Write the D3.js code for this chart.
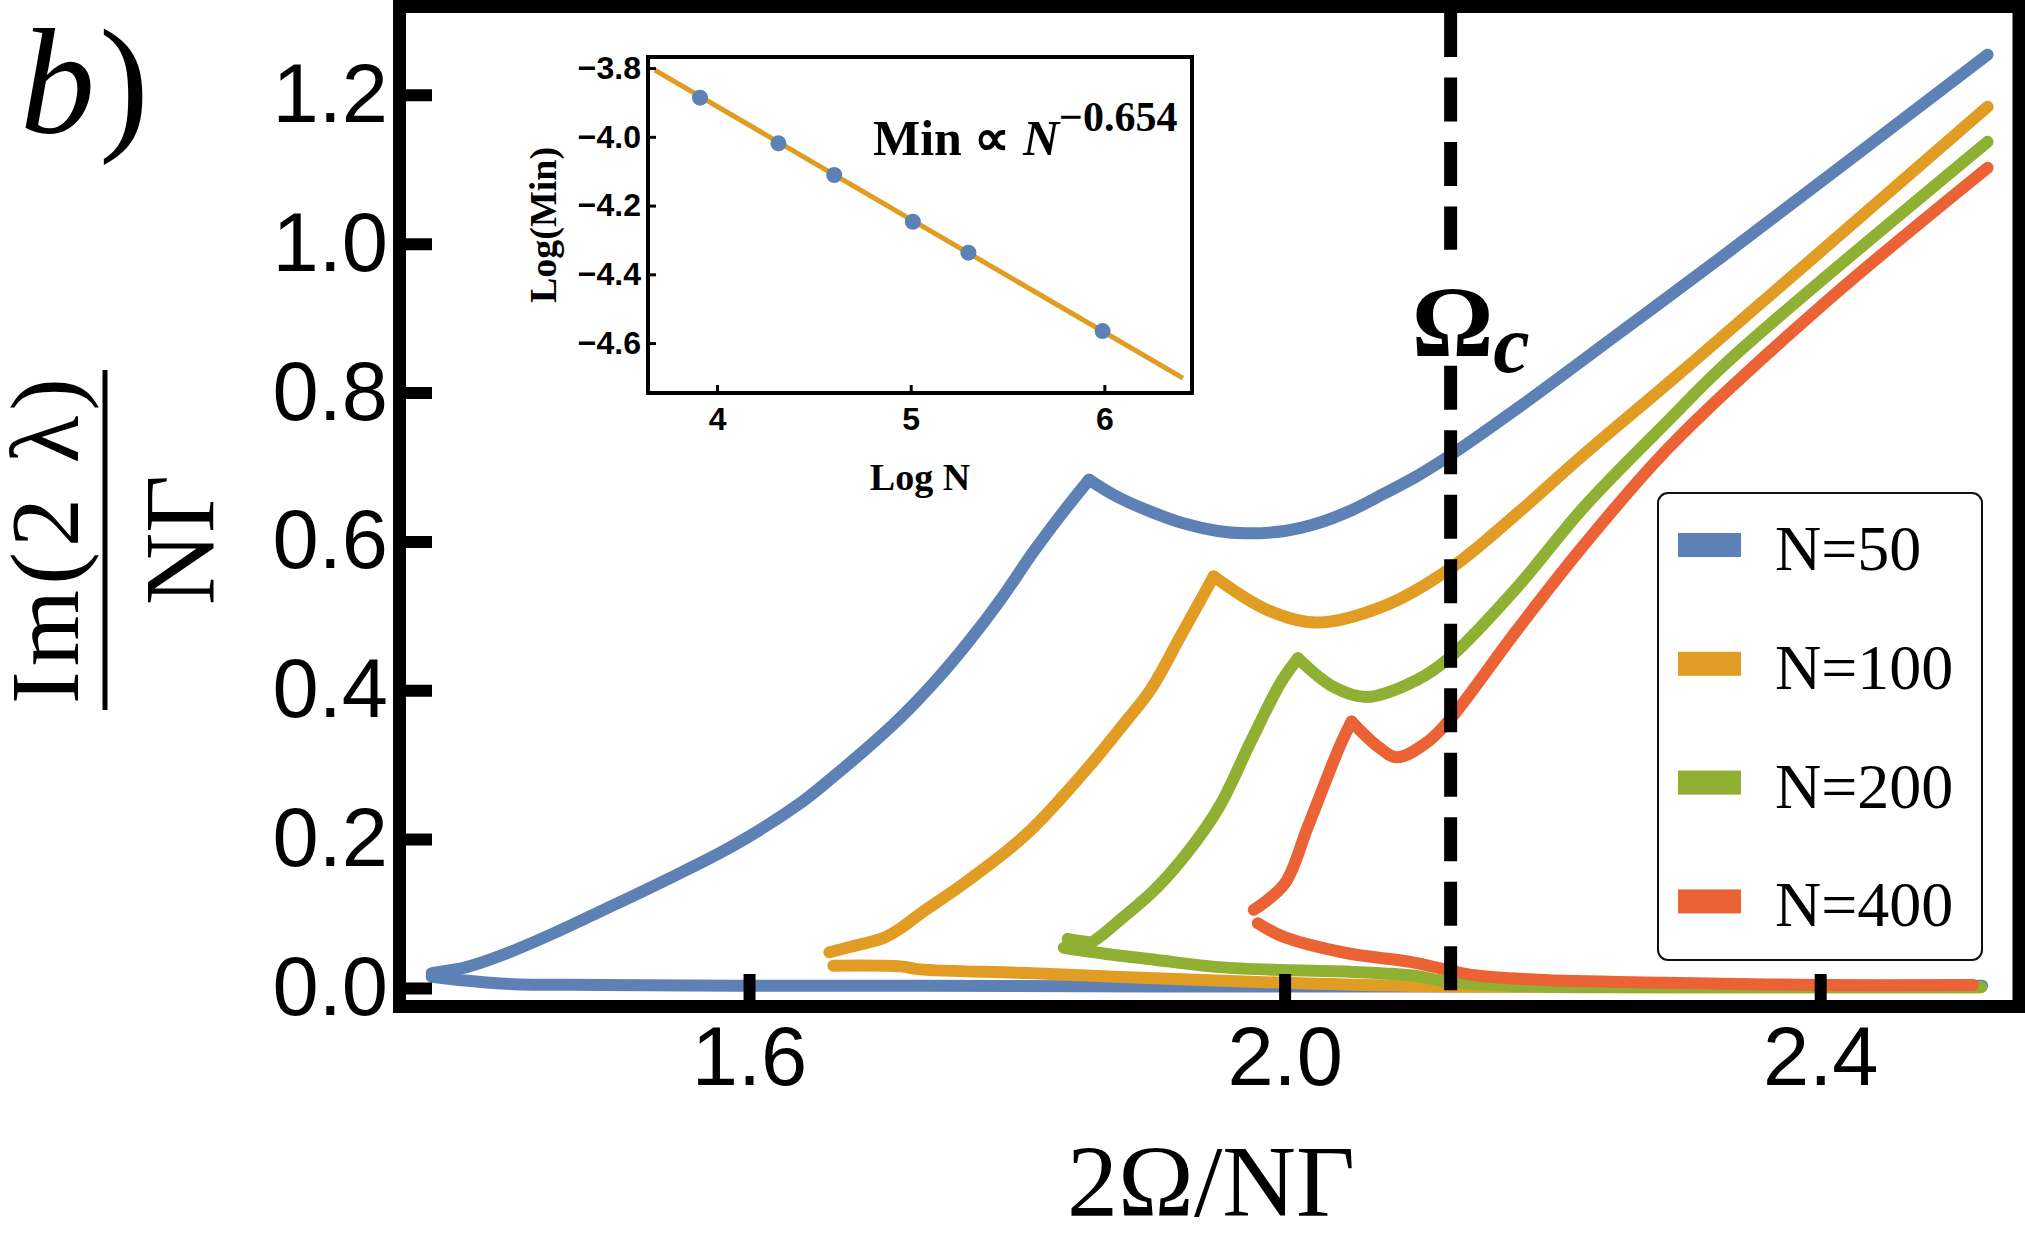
<!DOCTYPE html>
<html>
<head>
<meta charset="utf-8">
<title>Im(2λ)/NΓ against 2Ω/NΓ</title>
<style>
  body {
    margin: 0;
    background: #ffffff;
  }
  svg { display: block; }

  .mainAxis .tick line {
    stroke: #000;
    stroke-width: 12;
  }
  .mainAxis .tick text {
    font-family: "Liberation Sans", Arial, sans-serif;
    font-size: 83px;
    fill: #000;
  }
  .insetAxis .tick line {
    stroke: #000;
    stroke-width: 3;
  }
  .insetAxis .tick text {
    font-family: "Liberation Sans", Arial, sans-serif;
    font-size: 32px;
    font-weight: bold;
    fill: #000;
  }
  .serif {
    font-family: "Liberation Serif", "Times New Roman", serif;
    fill: #000;
  }
</style>
</head>
<body>
<svg width="2025" height="1238"></svg>
<script src="https://d3js.org/d3.v7.min.js"></script>
<script>

// ---- data ----
var seriesNames = ["N=50", "N=100", "N=200", "N=400"];

var xTicks = [1.6, 2.0, 2.4];
var yTicks = [0, 0.2, 0.4, 0.6, 0.8, 1.0, 1.2];

// upper (rising) branches, [2Ω/NΓ, Im(2λ)/NΓ]
var upperN50 = [[1.363,0.020],[1.389,0.028],[1.414,0.043],[1.451,0.071],[1.489,0.103],[1.539,0.146],
  [1.588,0.191],[1.638,0.248],[1.663,0.284],[1.688,0.322],[1.713,0.363],[1.738,0.410],[1.763,0.463],
  [1.788,0.522],[1.812,0.585],[1.834,0.638],[1.854,0.683],[1.875,0.660],[1.900,0.640],[1.925,0.624],
  [1.950,0.614],[1.970,0.611],[2.000,0.614],[2.024,0.624],[2.050,0.642],[2.074,0.664],[2.100,0.689],
  [2.124,0.716],[2.174,0.779],[2.250,0.880],[2.330,0.987],[2.525,1.254]];
var upperN100 = [[1.660,0.048],[1.675,0.055],[1.700,0.067],[1.713,0.080],[1.728,0.100],[1.761,0.141],
  [1.808,0.208],[1.856,0.302],[1.880,0.355],[1.900,0.401],[1.923,0.475],[1.947,0.553],[1.987,0.508],
  [2.024,0.491],[2.074,0.513],[2.124,0.564],[2.174,0.638],[2.223,0.716],[2.288,0.815],[2.330,0.880],
  [2.525,1.184]];
var upperN200 = [[1.838,0.066],[1.852,0.062],[1.856,0.062],[1.880,0.096],[1.903,0.132],[1.927,0.181],
  [1.951,0.243],[1.975,0.332],[1.997,0.410],[2.010,0.443],[2.036,0.405],[2.061,0.391],[2.099,0.414],
  [2.124,0.445],[2.174,0.539],[2.223,0.645],[2.288,0.765],[2.330,0.840],[2.525,1.137]];
var upperN400 = [[1.977,0.105],[2.000,0.140],[2.017,0.215],[2.041,0.324],[2.050,0.358],[2.070,0.324],
  [2.084,0.310],[2.107,0.331],[2.124,0.362],[2.174,0.482],[2.223,0.594],[2.288,0.728],[2.400,0.915],
  [2.525,1.102]];

// lower (decaying) branches
var lowerN50 = [[1.363,0.015],[1.414,0.006],[1.489,0.004],[1.588,0.003],[1.728,0.003],[1.900,0.002],
  [2.100,0.002],[2.300,0.002],[2.521,0.003]];
var lowerN100 = [[1.663,0.030],[1.713,0.029],[1.728,0.025],[1.808,0.020],[1.903,0.013],[1.999,0.007],
  [2.123,0.002],[2.300,0.001],[2.520,0.001]];
var lowerN200 = [[1.835,0.054],[1.870,0.045],[1.903,0.038],[1.951,0.028],[1.999,0.024],[2.046,0.022],
  [2.094,0.017],[2.125,0.008],[2.189,0.002],[2.350,0.001],[2.520,0.001]];
var lowerN400 = [[1.980,0.087],[1.999,0.069],[2.046,0.047],[2.094,0.035],[2.122,0.024],[2.142,0.017],
  [2.189,0.011],[2.284,0.007],[2.399,0.004],[2.514,0.004]];

// critical drive, dashed marker drawn in two pieces around its label
var omegaC = 2.124;
var omegaCPieces = [[1.31, 0.992], [0.836, -0.017]];

// inset: Log(Min) against Log N
var insetLogN = [3.912, 4.317, 4.605, 5.011, 5.298, 5.991];
var insetLogMin = [-3.886, -4.019, -4.111, -4.247, -4.337, -4.565];
var insetFitX = [3.679, 6.406];
var insetFitY = [-3.806, -4.702];
var insetXTicks = [4, 5, 6];
var insetYTicks = [-3.8, -4.0, -4.2, -4.4, -4.6];

// ---- drawing ----
var colors = ["#5E81B5", "#E19C24", "#8FB032", "#EB6235"];
var uppers = [upperN50, upperN100, upperN200, upperN400];
var lowers = [lowerN50, lowerN100, lowerN200, lowerN400];

var svg = d3.select("svg");

var x = d3.scaleLinear().domain([1.3438, 2.544]).range([406, 2013]);
var y = d3.scaleLinear().domain([-0.0175, 1.31]).range([1001, 13]);

var line = d3.line()
  .curve(d3.curveCatmullRom.alpha(0.5))
  .x(function(d) { return x(d[0]); })
  .y(function(d) { return y(d[1]); });

// split a rising branch at its cusp so the kink stays sharp
function splitAtCusp(branch) {
  for (var k = 1; k < branch.length - 1; k++) {
    if (branch[k][1] > branch[k - 1][1] && branch[k][1] > branch[k + 1][1]) {
      return [branch.slice(0, k + 1), branch.slice(k)];
    }
  }
  return [branch];
}

// curves, N=400 ends on top
var curves = svg.append("g");
seriesNames.forEach(function(name, i) {
  [lowers[i]].concat(splitAtCusp(uppers[i])).forEach(function(piece) {
    curves.append("path")
      .datum(piece)
      .attr("d", line)
      .attr("fill", "none")
      .attr("stroke", colors[i])
      .attr("stroke-width", 12)
      .attr("stroke-linecap", "round")
      .attr("stroke-linejoin", "round");
  });
});

// dashed Omega_c marker
svg.append("g")
  .selectAll("line")
  .data(omegaCPieces)
  .enter().append("line")
  .attr("x1", x(omegaC))
  .attr("x2", x(omegaC))
  .attr("y1", function(d) { return y(d[0]); })
  .attr("y2", function(d) { return y(d[1]); })
  .attr("stroke", "#000")
  .attr("stroke-width", 13)
  .attr("stroke-dasharray", "44 20.5");

var omegaLabel = svg.append("text")
  .attr("class", "serif")
  .attr("x", x(omegaC) - 39)
  .attr("y", 357)
  .attr("font-size", 102)
  .attr("font-weight", "bold");
omegaLabel.append("tspan").text("Ω");
omegaLabel.append("tspan")
  .attr("dy", 15)
  .attr("font-size", 82)
  .attr("font-style", "italic")
  .text("c");

// frame
svg.append("rect")
  .attr("x", 399.5)
  .attr("y", 6.5)
  .attr("width", 2019 - 399.5)
  .attr("height", 1006.5 - 6.5)
  .attr("fill", "none")
  .attr("stroke", "#000")
  .attr("stroke-width", 13);

// axes with inward ticks
var yAxis = svg.append("g")
  .attr("class", "mainAxis")
  .attr("transform", "translate(399.5,0)")
  .call(d3.axisLeft(y)
    .tickValues(yTicks)
    .tickFormat(d3.format(".1f"))
    .tickSizeInner(-32.5)
    .tickSizeOuter(0)
    .tickPadding(11.5));
yAxis.select(".domain").remove();

var xAxis = svg.append("g")
  .attr("class", "mainAxis")
  .attr("transform", "translate(0,1006.5)")
  .call(d3.axisBottom(x)
    .tickValues(xTicks)
    .tickFormat(d3.format(".1f"))
    .tickSizeInner(-32.5)
    .tickSizeOuter(0)
    .tickPadding(20));
xAxis.select(".domain").remove();

// axis titles
svg.append("text")
  .attr("class", "serif")
  .attr("x", 1211)
  .attr("y", 1216)
  .attr("text-anchor", "middle")
  .attr("font-size", 102)
  .text("2Ω/NΓ");

svg.append("text")
  .attr("class", "serif")
  .attr("transform", "translate(78,541) rotate(-90)")
  .attr("text-anchor", "middle")
  .attr("font-size", 98)
  .attr("textLength", 326)
  .attr("lengthAdjust", "spacing")
  .text("Im(2 λ)");

svg.append("line")
  .attr("x1", 105).attr("x2", 105)
  .attr("y1", 370).attr("y2", 710)
  .attr("stroke", "#000")
  .attr("stroke-width", 5);

svg.append("text")
  .attr("class", "serif")
  .attr("transform", "translate(213,540) rotate(-90)")
  .attr("text-anchor", "middle")
  .attr("font-size", 100)
  .text("NΓ");

// panel tag
var tag = svg.append("text")
  .attr("class", "serif")
  .attr("x", 20)
  .attr("y", 133)
  .attr("font-size", 150);
tag.append("tspan").attr("font-style", "italic").text("b");
tag.append("tspan").attr("dx", 4).text(")");

// legend
var legend = svg.append("g");
legend.append("rect")
  .attr("x", 1658)
  .attr("y", 493)
  .attr("width", 324)
  .attr("height", 467)
  .attr("rx", 10)
  .attr("fill", "#fff")
  .attr("stroke", "#111")
  .attr("stroke-width", 2);

var item = legend.selectAll("g.item")
  .data(seriesNames)
  .enter().append("g")
  .attr("class", "item")
  .attr("transform", function(d, i) { return "translate(0," + (545 + i * 118.8) + ")"; });

item.append("rect")
  .attr("x", 1678)
  .attr("y", -12)
  .attr("width", 63)
  .attr("height", 24)
  .attr("fill", function(d, i) { return colors[i]; });

item.append("text")
  .attr("class", "serif")
  .attr("x", 1775)
  .attr("y", 25)
  .attr("font-size", 64)
  .text(function(d) { return d; });

// ---- inset ----
var ix = d3.scaleLinear().domain([3.633, 6.463]).range([646, 1194]);
var iy = d3.scaleLinear().domain([-4.751, -3.762]).range([395, 55]);

var inset = svg.append("g");
inset.append("rect")
  .attr("x", 648)
  .attr("y", 57)
  .attr("width", 544)
  .attr("height", 336)
  .attr("fill", "#fff");

inset.append("line")
  .attr("x1", ix(insetFitX[0]))
  .attr("y1", iy(insetFitY[0]))
  .attr("x2", ix(insetFitX[1]))
  .attr("y2", iy(insetFitY[1]))
  .attr("stroke", colors[1])
  .attr("stroke-width", 5);

inset.selectAll("circle")
  .data(insetLogN)
  .enter().append("circle")
  .attr("cx", function(d) { return ix(d); })
  .attr("cy", function(d, i) { return iy(insetLogMin[i]); })
  .attr("r", 8)
  .attr("fill", colors[0]);

var iyAxis = inset.append("g")
  .attr("class", "insetAxis")
  .attr("transform", "translate(646,0)")
  .call(d3.axisLeft(iy)
    .tickValues(insetYTicks)
    .tickFormat(d3.format(".1f"))
    .tickSizeInner(-10)
    .tickSizeOuter(0)
    .tickPadding(5));
iyAxis.select(".domain").remove();

var ixAxis = inset.append("g")
  .attr("class", "insetAxis")
  .attr("transform", "translate(0,395)")
  .call(d3.axisBottom(ix)
    .tickValues(insetXTicks)
    .tickFormat(d3.format("d"))
    .tickSizeInner(-10)
    .tickSizeOuter(0)
    .tickPadding(12));
ixAxis.select(".domain").remove();

inset.append("rect")
  .attr("x", 648)
  .attr("y", 57)
  .attr("width", 544)
  .attr("height", 336)
  .attr("fill", "none")
  .attr("stroke", "#000")
  .attr("stroke-width", 4);

inset.append("text")
  .attr("class", "serif")
  .attr("x", 920)
  .attr("y", 490)
  .attr("text-anchor", "middle")
  .attr("font-size", 38)
  .attr("font-weight", "bold")
  .text("Log N");

inset.append("text")
  .attr("class", "serif")
  .attr("transform", "translate(556,225) rotate(-90)")
  .attr("text-anchor", "middle")
  .attr("font-size", 38)
  .attr("font-weight", "bold")
  .text("Log(Min)");

var law = inset.append("text")
  .attr("class", "serif")
  .attr("x", 873)
  .attr("y", 155)
  .attr("font-size", 50)
  .attr("font-weight", "bold");
law.append("tspan").text("Min ∝ ");
law.append("tspan").attr("font-style", "italic").text("N");
law.append("tspan").attr("dy", -24).attr("font-size", 42).text("−0.654");

</script>
</body>
</html>
